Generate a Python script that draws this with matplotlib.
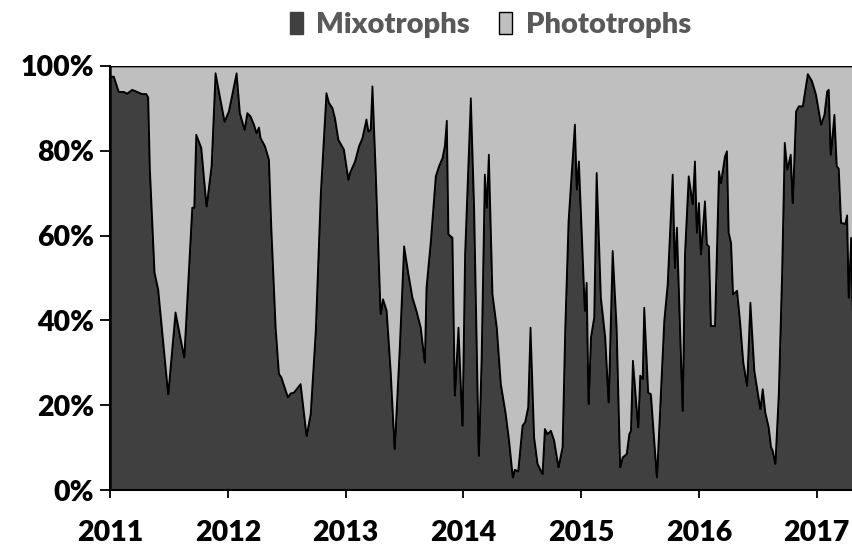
import matplotlib
matplotlib.use("Agg")
import matplotlib.pyplot as plt
from matplotlib.patches import Patch
from matplotlib.ticker import FuncFormatter

# decimal year of each sample and share of mixotrophs (%)
years = [
    2011.000, 2011.026, 2011.068, 2011.111, 2011.139, 2011.182, 2011.224, 2011.267,
    2011.301, 2011.318, 2011.332, 2011.372, 2011.403, 2011.488, 2011.550, 2011.624,
    2011.692, 2011.709, 2011.726, 2011.769, 2011.814, 2011.856, 2011.890, 2011.967,
    2012.003, 2012.069, 2012.097, 2012.137, 2012.160, 2012.188, 2012.216, 2012.239,
    2012.259, 2012.273, 2012.310, 2012.344, 2012.364, 2012.401, 2012.429, 2012.449,
    2012.505, 2012.528, 2012.556, 2012.613, 2012.664, 2012.698, 2012.741, 2012.784,
    2012.832, 2012.854, 2012.883, 2012.905, 2012.934, 2012.981, 2013.019, 2013.032,
    2013.075, 2013.109, 2013.138, 2013.172, 2013.189, 2013.208, 2013.223, 2013.251,
    2013.293, 2013.313, 2013.344, 2013.378, 2013.412, 2013.455, 2013.492, 2013.529,
    2013.563, 2013.597, 2013.634, 2013.668, 2013.682, 2013.719, 2013.761, 2013.789,
    2013.818, 2013.838, 2013.855, 2013.869, 2013.903, 2013.923, 2013.954, 2013.988,
    2014.010, 2014.059, 2014.087, 2014.127, 2014.150, 2014.178, 2014.195, 2014.212,
    2014.243, 2014.280, 2014.314, 2014.356, 2014.384, 2014.416, 2014.433, 2014.461,
    2014.498, 2014.520, 2014.546, 2014.566, 2014.597, 2014.626, 2014.668, 2014.688,
    2014.711, 2014.739, 2014.767, 2014.804, 2014.838, 2014.861, 2014.889, 2014.943,
    2014.960, 2014.977, 2015.028, 2015.043, 2015.060, 2015.079, 2015.107, 2015.128,
    2015.164, 2015.201, 2015.230, 2015.264, 2015.298, 2015.328, 2015.349, 2015.383,
    2015.405, 2015.419, 2015.436, 2015.481, 2015.498, 2015.519, 2015.532, 2015.566,
    2015.589, 2015.640, 2015.702, 2015.731, 2015.774, 2015.793, 2015.810, 2015.859,
    2015.878, 2015.910, 2015.944, 2015.963, 2015.980, 2015.997, 2016.014, 2016.048,
    2016.065, 2016.082, 2016.099, 2016.133, 2016.167, 2016.184, 2016.218, 2016.235,
    2016.250, 2016.270, 2016.287, 2016.321, 2016.346, 2016.374, 2016.406, 2016.434,
    2016.468, 2016.519, 2016.539, 2016.561, 2016.590, 2016.610, 2016.624, 2016.646,
    2016.675, 2016.703, 2016.726, 2016.748, 2016.777, 2016.794, 2016.822, 2016.845,
    2016.879, 2016.922, 2016.958, 2016.992, 2017.035, 2017.063, 2017.086, 2017.100,
    2017.117, 2017.148, 2017.168, 2017.185, 2017.205, 2017.241, 2017.256, 2017.270,
    2017.290, 2017.316,
]
mixotrophs = [
    97.6, 97.6, 94.0, 94.0, 93.6, 94.5, 94.0, 93.5,
    93.5, 92.7, 76.0, 51.4, 47.4, 22.7, 42.0, 31.4,
    66.7, 66.7, 83.9, 80.8, 67.0, 76.5, 98.4, 87.0,
    89.4, 98.4, 89.0, 85.1, 89.0, 88.2, 86.3, 84.3,
    85.6, 83.1, 81.2, 78.0, 62.0, 38.4, 27.5, 26.7,
    22.0, 22.9, 23.1, 25.1, 12.9, 18.0, 37.5, 70.0,
    93.7, 91.4, 90.2, 87.8, 82.7, 80.4, 73.3, 74.9,
    77.6, 81.2, 83.1, 87.5, 84.7, 85.1, 95.3, 75.3,
    41.6, 45.1, 42.4, 28.2, 9.8, 33.7, 57.6, 51.0,
    45.5, 42.4, 38.4, 30.2, 47.8, 58.8, 74.1, 76.5,
    78.4, 81.2, 87.2, 60.4, 59.6, 22.4, 38.4, 15.3,
    55.7, 92.5, 66.7, 8.2, 30.6, 74.5, 66.7, 79.2,
    46.3, 38.4, 25.1, 18.0, 11.8, 3.1, 4.9, 4.5,
    15.3, 16.1, 19.6, 38.4, 12.5, 6.3, 3.9, 14.5,
    13.3, 14.1, 11.8, 5.5, 10.2, 38.4, 63.5, 86.3,
    71.0, 77.6, 42.4, 49.0, 20.4, 36.1, 40.8, 74.9,
    45.5, 36.1, 20.8, 56.5, 38.4, 5.5, 7.8, 8.6,
    13.3, 14.1, 30.6, 14.9, 27.1, 26.3, 43.1, 23.1,
    22.7, 3.1, 40.0, 48.6, 74.5, 52.5, 62.0, 18.8,
    55.7, 74.1, 67.5, 77.6, 60.8, 67.8, 55.7, 68.2,
    58.0, 57.6, 38.8, 38.8, 75.3, 72.5, 78.8, 80.0,
    60.8, 58.4, 46.3, 47.1, 40.0, 30.2, 24.7, 44.3,
    28.2, 19.2, 23.9, 18.4, 14.9, 10.2, 9.4, 6.3,
    22.7, 51.0, 82.0, 75.7, 79.2, 67.8, 89.4, 90.6,
    90.6, 98.2, 96.5, 93.3, 86.3, 88.6, 94.1, 94.5,
    79.2, 88.6, 76.5, 75.9, 63.1, 62.9, 64.9, 45.5,
    59.6, 28.7,
]
phototrophs = [100 - m for m in mixotrophs]

year_ticks = [2011, 2012, 2013, 2014, 2015, 2016, 2017]
pct_ticks = [0, 20, 40, 60, 80, 100]

MIXO_COLOR = "#404040"
PHOTO_COLOR = "#bfbfbf"

plt.rcParams["font.family"] = ["Lato", "DejaVu Sans"]
plt.rcParams["font.weight"] = "bold"

fig = plt.figure(figsize=(8.53, 5.48), dpi=100)
ax = fig.add_axes([0.1293, 0.1058, 0.8707, 0.7738])

ax.stackplot(
    years,
    mixotrophs,
    phototrophs,
    colors=[MIXO_COLOR, PHOTO_COLOR],
    edgecolor="black",
    linewidth=1.3,
)

ax.set_xlim(2011, 2017.31)
ax.set_ylim(0, 100)
ax.set_xticks(year_ticks)
ax.set_xticklabels([str(y) for y in year_ticks])
ax.set_yticks(pct_ticks)
ax.yaxis.set_major_formatter(FuncFormatter(lambda v, _: f"{v:.0f}%"))

for side in ["top", "right"]:
    ax.spines[side].set_visible(False)
for side in ["left", "bottom"]:
    ax.spines[side].set_linewidth(1.5)
    ax.spines[side].set_color("black")

ax.tick_params(axis="y", length=7.5, width=1.3, pad=4, labelsize=20.5, colors="black")
ax.tick_params(axis="x", length=6, width=1.3, pad=15.5, labelsize=20.5, colors="black")
for lab in ax.get_xticklabels() + ax.get_yticklabels():
    lab.set_fontweight("heavy")

handles = [
    Patch(facecolor=MIXO_COLOR, edgecolor=MIXO_COLOR, label="Mixotrophs"),
    Patch(facecolor=PHOTO_COLOR, edgecolor="black", linewidth=1.0, label="Phototrophs"),
]
fig.legend(
    handles=handles,
    loc="center",
    bbox_to_anchor=(0.575, 0.955),
    ncol=2,
    frameon=False,
    handlelength=0.45,
    handleheight=0.8,
    handletextpad=0.45,
    columnspacing=1.0,
    prop={"family": "Lato", "weight": "heavy", "size": 21},
    labelcolor="#595959",
)

fig.savefig("out.png", dpi=100)
